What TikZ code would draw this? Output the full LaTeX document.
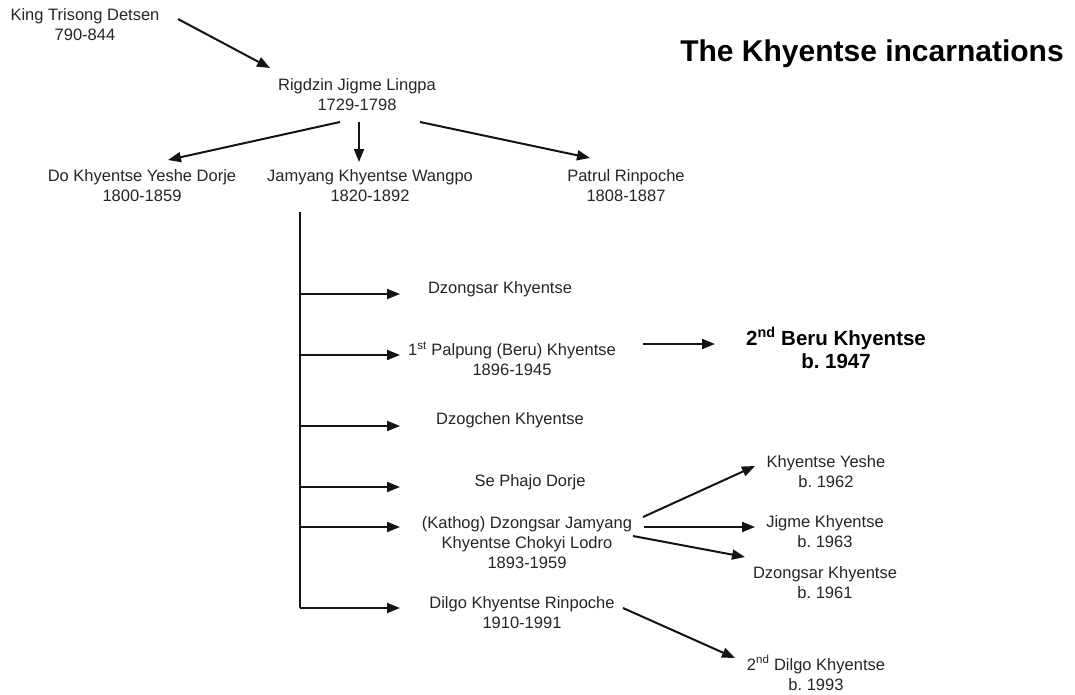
\documentclass[tikz,border=0pt]{standalone}
\usepackage{fontspec}
\setmainfont{Liberation Sans}
\usetikzlibrary{arrows.meta}
\definecolor{txt}{HTML}{262626}
\definecolor{ln}{HTML}{141414}
\frenchspacing
\begin{document}
\begin{tikzpicture}[x=1pt,y=-1pt,
  lbl/.style={font=\fontsize{16.5}{20}\selectfont, align=center, inner sep=0pt, text=txt},
  bigl/.style={font=\bfseries\fontsize{20.5}{23}\selectfont, align=center, inner sep=0pt, text=black},
  ttl/.style={font=\bfseries\fontsize{30}{34}\selectfont, inner sep=0pt, text=black},
  arr/.style={draw=ln, line width=2pt, -{Triangle[length=13pt,width=10pt]}},
  trunkline/.style={draw=ln, line width=2pt}]
\useasboundingbox[fill=white] (0,0) rectangle (1075,694);

\node[ttl] (title) at (872,54) {The Khyentse incarnations};

\node[lbl] (king) at (85,25) {King Trisong Detsen\\790-844};
\node[lbl] (rig)  at (357,95) {Rigdzin Jigme Lingpa\\1729-1798};
\node[lbl] (dok)  at (142,186) {Do Khyentse Yeshe Dorje\\1800-1859};
\node[lbl] (jam)  at (370,186) {Jamyang Khyentse Wangpo\\1820-1892};
\node[lbl] (pat)  at (626,186) {Patrul Rinpoche\\1808-1887};

\node[lbl] (dzk) at (500,289) {Dzongsar Khyentse};
\node[lbl] (pal) at (512,359) {1\textsuperscript{st} Palpung (Beru) Khyentse\\1896-1945};
\node[bigl] (beru) at (836,348) {2\textsuperscript{nd} Beru Khyentse\\b. 1947};
\node[lbl] (dzc) at (510,420) {Dzogchen Khyentse};
\node[lbl] (se)  at (530,482) {Se Phajo Dorje};
\node[lbl] (kat) at (527,543) {(Kathog) Dzongsar Jamyang\\Khyentse Chokyi Lodro\\1893-1959};
\node[lbl] (dil) at (522,613) {Dilgo Khyentse Rinpoche\\1910-1991};

\node[lbl] (ky)  at (826,472) {Khyentse Yeshe\\b. 1962};
\node[lbl] (jk)  at (825,532) {Jigme Khyentse\\b. 1963};
\node[lbl] (dk2) at (825,583) {Dzongsar Khyentse\\b. 1961};
\node[lbl] (dd)  at (816,673) {2\textsuperscript{nd} Dilgo Khyentse\\b. 1993};

% top arrows
\draw[arr] ([shift={(93,-6)}]king.center) -- ([shift={(-87,-27)}]rig.center);
\draw[arr] ([shift={(-17,27)}]rig.center) -- ([shift={(26,-26)}]dok.center);
\draw[arr] ([shift={(2,27)}]rig.center) -- ([shift={(-11,-24)}]jam.center);
\draw[arr] ([shift={(63,27)}]rig.center) -- ([shift={(-36,-28)}]pat.center);

% trunk
\coordinate (ttop) at ([shift={(-70,26)}]jam.center);
\coordinate (tipx) at (400,0);
\coordinate (b1) at (300,294);
\coordinate (b2) at (300,355);
\coordinate (b3) at (300,426);
\coordinate (b4) at (300,487);
\coordinate (b5) at (300,527);
\coordinate (b6) at (300,608);
\draw[trunkline] (ttop) -- (b6);
\draw[arr] (b1) -- (b1 -| tipx);
\draw[arr] (b2) -- (b2 -| tipx);
\draw[arr] (b3) -- (b3 -| tipx);
\draw[arr] (b4) -- (b4 -| tipx);
\draw[arr] (b5) -- (b5 -| tipx);
\draw[arr] (b6) -- (b6 -| tipx);

% right arrows
\draw[arr] ([shift={(131,-15)}]pal.center) -- ([shift={(-121,-4)}]beru.center);
\draw[arr] ([shift={(116,-26)}]kat.center) -- ([shift={(-71,-6)}]ky.center);
\draw[arr] ([shift={(117,-16)}]kat.center) -- ([shift={(-70,-5)}]jk.center);
\draw[arr] ([shift={(106,-7)}]kat.center) -- ([shift={(-80,-26)}]dk2.center);
\draw[arr] ([shift={(101,-5)}]dil.center) -- ([shift={(-81,-15)}]dd.center);
\end{tikzpicture}
\end{document}
